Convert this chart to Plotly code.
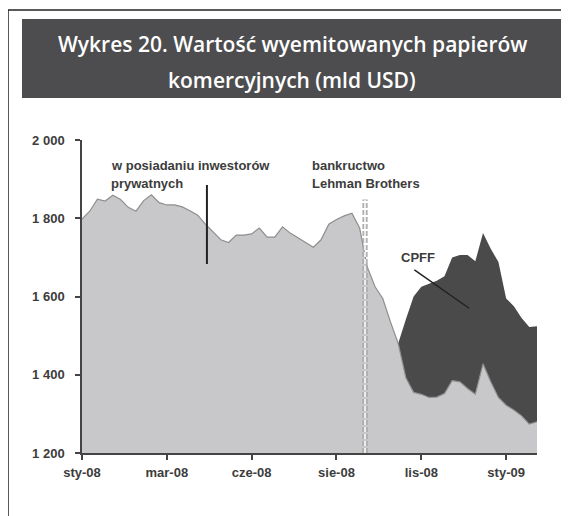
import plotly.graph_objects as go

# ---------------- data (weekly, week 0 = first week of Jan 2008) ----------------
weeks = list(range(60))
private_investors = [
    1798, 1818, 1849, 1844, 1859, 1848, 1828, 1818, 1845, 1860,
    1840, 1834, 1834, 1829, 1819, 1808, 1785, 1765, 1745, 1738,
    1757, 1757, 1760, 1775, 1752, 1752, 1778, 1762, 1749, 1738,
    1726, 1745, 1785, 1797, 1806, 1813, 1775, 1675, 1625, 1595,
    1535, 1480, 1392, 1355, 1350, 1342, 1343, 1352, 1385, 1382,
    1365, 1350, 1428, 1382, 1342, 1322, 1310, 1295, 1274, 1280,
]
cpff = [
    0, 0, 0, 0, 0, 0, 0, 0, 0, 0,
    0, 0, 0, 0, 0, 0, 0, 0, 0, 0,
    0, 0, 0, 0, 0, 0, 0, 0, 0, 0,
    0, 0, 0, 0, 0, 0, 0, 0, 0, 0,
    0, 0, 150, 245, 275, 290, 297, 300, 315, 324,
    341, 340, 334, 340, 346, 273, 265, 250, 248, 244,
]
tick_weeks = [0, 11, 22, 33, 44, 55]
tick_labels = ["sty-08", "mar-08", "cze-08", "sie-08", "lis-08", "sty-09"]
y_ticks = [1200, 1400, 1600, 1800, 2000]
y_tick_labels = ["1 200", "1 400", "1 600", "1 800", "2 000"]
lehman_week = 36.7

# ---------------- layout geometry (screen pixels) ----------------
PAGE_W, PAGE_H = 569, 516
OFF = 8  # default body margin of the html page
W, H = PAGE_W - OFF, PAGE_H - OFF
L, R, T, B = 82, 537, 140, 453


def px(x):
    return (x - L) / (R - L)


def py(y):
    return (B - y) / (B - T)


AX_FONT = dict(family="Liberation Sans, Arial, sans-serif", size=13, color="#3c3c3c", weight="bold")

fig = go.Figure()
fig.add_trace(go.Scatter(
    x=weeks, y=private_investors, stackgroup="one", mode="lines",
    line=dict(color="#8e8e8e", width=1.2), fillcolor="#c8c8ca",
    name="w posiadaniu inwestorów prywatnych", hoverinfo="x+y",
))
fig.add_trace(go.Scatter(
    x=weeks, y=cpff, stackgroup="one", mode="lines",
    line=dict(color="#4a4a4a", width=0), fillcolor="#4a4a4a",
    name="CPFF", hoverinfo="x+y",
))

shapes = [
    # outer frame (top and left visible)
    dict(type="line", xref="paper", yref="paper", x0=px(8), y0=py(10), x1=px(569), y1=py(10),
         line=dict(color="#222222", width=1.5)),
    dict(type="line", xref="paper", yref="paper", x0=px(8), y0=py(10), x1=px(8), y1=py(516),
         line=dict(color="#222222", width=1.5)),
    # title box
    dict(type="rect", xref="paper", yref="paper", x0=px(22), y0=py(98), x1=px(562), y1=py(19),
         fillcolor="#4d4d4f", line=dict(width=0), layer="below"),
    # Lehman line (chain of small hollow ovals)
    dict(type="line", xref="x", yref="y", x0=lehman_week, x1=lehman_week, y0=1200, y1=1848,
         line=dict(color="#9c9c9c", width=5, dash="5px,2px")),
    dict(type="line", xref="x", yref="y", x0=lehman_week, x1=lehman_week, y0=1200, y1=1848,
         line=dict(color="#ececec", width=2.5, dash="5px,2px")),
    # pointer lines
    dict(type="line", xref="x", yref="y", x0=16.2, x1=16.2, y0=1885, y1=1683,
         line=dict(color="#222222", width=2)),
    dict(type="line", xref="x", yref="y", x0=43.1, x1=50.2, y0=1668, y1=1570,
         line=dict(color="#222222", width=1.5)),
]

ann = []
TITLE_FONT = dict(family="Open Sans, sans-serif", size=21, color="#ffffff", weight=600)
for text, yy in [("Wykres 20. Wartość wyemitowanych papierów", 44), ("komercyjnych (mld USD)", 80)]:
    ann.append(dict(text=text, xref="paper", yref="paper", x=px(292), y=py(yy),
                    xanchor="center", yanchor="middle", showarrow=False, font=TITLE_FONT))
for text, xx, yy in [("w posiadaniu inwestorów", 109, 165), ("prywatnych", 109, 183),
                     ("bankructwo", 310, 165), ("Lehman Brothers", 310, 183),
                     ("CPFF", 399, 257)]:
    ann.append(dict(text=text, xref="paper", yref="paper", x=px(xx), y=py(yy),
                    xanchor="left", yanchor="middle", showarrow=False, font=AX_FONT))

fig.update_layout(
    width=W, height=H,
    margin=dict(l=L - OFF, r=PAGE_W - R, t=T - OFF, b=PAGE_H - B, pad=0),
    paper_bgcolor="white", plot_bgcolor="white",
    showlegend=False,
    shapes=shapes, annotations=ann,
    xaxis=dict(range=[0, 59], tickvals=tick_weeks, ticktext=tick_labels,
               showgrid=False, zeroline=False, showline=True, linecolor="#444444", linewidth=1.5,
               ticks="outside", ticklen=5, tickwidth=1.5, tickcolor="#444444",
               tickfont=AX_FONT, ticklabelstandoff=2),
    yaxis=dict(range=[1200, 2000], tickvals=y_ticks, ticktext=y_tick_labels,
               showgrid=False, zeroline=False, showline=True, linecolor="#444444", linewidth=1.5,
               ticks="outside", ticklen=5, tickwidth=1.5, tickcolor="#444444",
               tickfont=AX_FONT, ticklabelstandoff=8),
)

fig.write_html("out.html")
